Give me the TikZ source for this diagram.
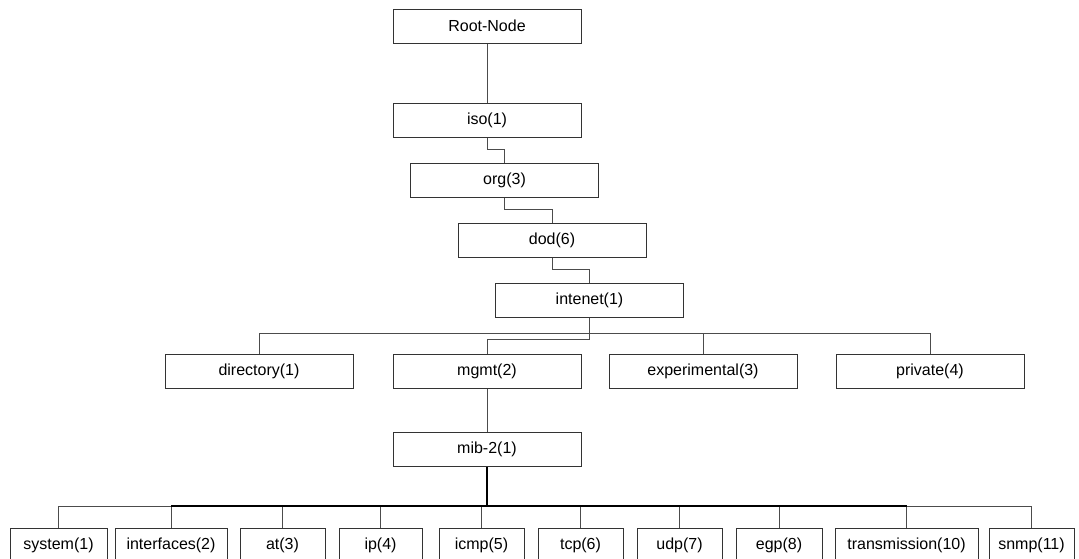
\documentclass[tikz,border=0pt]{standalone}
\usepackage{fontspec}
\setmainfont{Liberation Sans}
\begin{document}
\begin{tikzpicture}[x=1pt,y=-1pt,
  box/.style={draw=black!80, line width=1pt, minimum height=34pt, inner sep=0pt,
    font=\fontsize{16}{19}\selectfont, text=black},
  wide/.style={box, minimum width=188pt},
  leaf/.style={box, anchor=north},
  link/.style={draw=black!70, line width=1pt},
  heavy/.style={draw=black, line width=1.6pt}]
\useasboundingbox (0,0) rectangle (1079,558);
\clip (0,0) rectangle (1079,558);

% upper chain of the tree
\node[wide] (root) at (487,26) {Root-Node};
\node[wide] (iso) at (487,120) {iso(1)};
\node[wide] (org) at (504.5,180) {org(3)};
\node[wide] (dod) at (552,240) {dod(6)};
\node[wide] (inet) at (589.5,300) {intenet(1)};

% children of the internet node
\node[wide] (dir) at (259,371.5) {directory(1)};
\node[wide] (mgmt) at (487,371.5) {mgmt(2)};
\node[wide] (exp) at (703,371.5) {experimental(3)};
\node[wide] (priv) at (930,371.5) {private(4)};

\node[wide] (mib) at (487,449.5) {mib-2(1)};

% mib-2 groups
\node[leaf, minimum width=97pt]  (sys)   at (58.5,528)  {system(1)};
\node[leaf, minimum width=112pt] (ifs)   at (171,528)   {interfaces(2)};
\node[leaf, minimum width=85pt]  (at)    at (282.5,528) {at(3)};
\node[leaf, minimum width=83pt]  (ip)    at (380.5,528) {ip(4)};
\node[leaf, minimum width=85pt]  (icmp)  at (481.5,528) {icmp(5)};
\node[leaf, minimum width=85pt]  (tcp)   at (580.5,528) {tcp(6)};
\node[leaf, minimum width=85pt]  (udp)   at (679.5,528) {udp(7)};
\node[leaf, minimum width=86pt]  (egp)   at (779,528)   {egp(8)};
\node[leaf, minimum width=143pt] (trans) at (906.5,528) {transmission(10)};
\node[leaf, minimum width=85pt]  (snmp)  at (1031.5,528) {snmp(11)};

% connectors
\draw[link] (root.south) -- (iso.north);
\draw[link] (iso.south) -- ++(0,12) -| (org.north);
\draw[link] (org.south) -- ++(0,12) -| (dod.north);
\draw[link] (dod.south) -- ++(0,12) -| (inet.north);

\draw[link] (inet.south) -- ++(0,16) -| (dir.north);
\draw[link] (inet.south) -- ++(0,16) -| (exp.north);
\draw[link] (inet.south) -- ++(0,16) -| (priv.north);
\draw[link] (inet.south) -- ++(0,22) -| (mgmt.north);

\draw[link] (mgmt.south) -- (mib.north);

\coordinate (bus) at (487,506);
\foreach \c in {sys,ifs,at,ip,icmp,tcp,udp,egp,trans,snmp}
  \draw[link] (mib.south) |- (bus) -| (\c.north);
\draw[heavy] (mib.south) -- (bus);
\draw[heavy] (ifs.north |- bus) -- (trans.north |- bus);
\end{tikzpicture}
\end{document}
